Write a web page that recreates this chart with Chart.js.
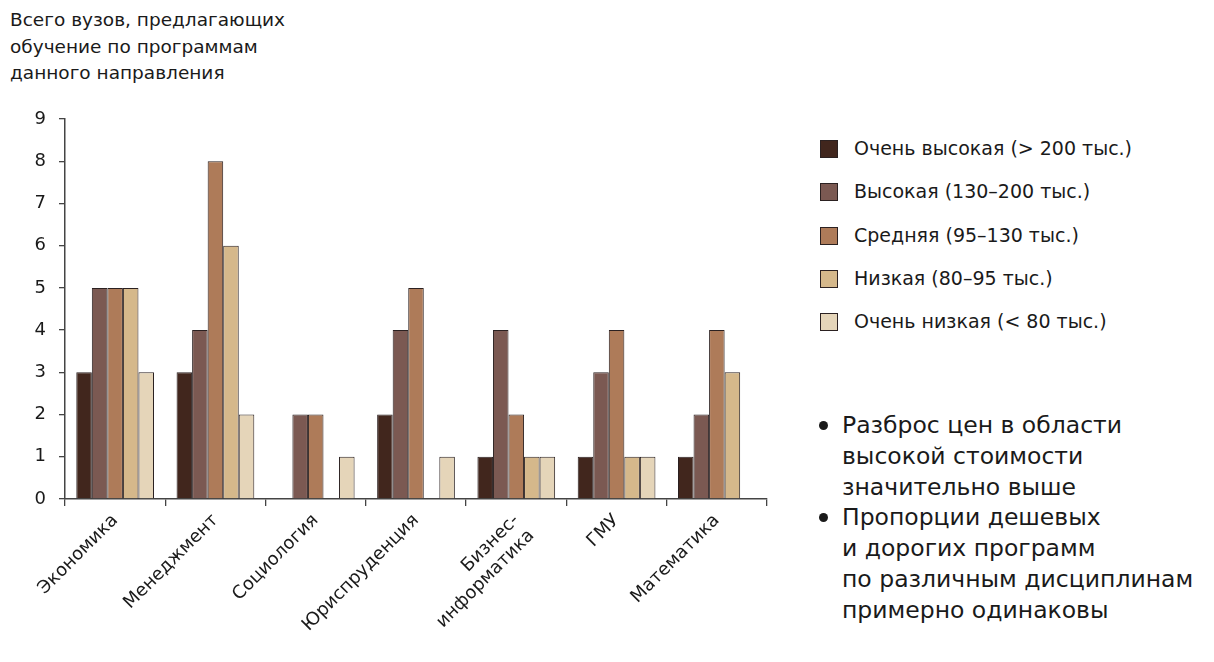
<!DOCTYPE html>
<html>
<head>
<meta charset="utf-8">
<script src="https://cdn.jsdelivr.net/npm/chart.js@4.4.0/dist/chart.umd.min.js"></script>
<style>
  body { margin: 0; background: #fff; font-family: "DejaVu Sans", sans-serif; color: #1a1a1a; }
  #wrap { position: relative; width: 1214px; height: 662px; }
  #chartBox { position: absolute; left: 0; top: 0; width: 800px; height: 662px; }
  #title { position: absolute; left: 10px; top: 7px; font-size: 18.5px; line-height: 26.5px; }
  #legend { position: absolute; left: 820px; top: 137px; font-size: 19px; }
  .li { height: 43.3px; display: flex; align-items: flex-start; }
  .sw { width: 16px; height: 16px; border: 1px solid #2b2121; margin-top: 3px; margin-right: 16px; }
  #notes { position: absolute; left: 818px; top: 410px; font-size: 23.5px; line-height: 30.8px; }
  #notes div { padding-left: 24px; position: relative; }
  #notes div::before { content: ""; position: absolute; left: 1px; top: 11px; width: 9px; height: 9px; border-radius: 50%; background: #1a1a1a; }
</style>
</head>
<body>
<div id="wrap">
  <div id="title">Всего вузов, предлагающих<br>обучение по программам<br>данного направления</div>
  <div id="chartBox"><canvas id="c"></canvas></div>
  <div id="legend"></div>
  <div id="notes">
    <div>Разброс цен в области<br>высокой стоимости<br>значительно выше</div>
    <div>Пропорции дешевых<br>и дорогих программ<br>по различным дисциплинам<br>примерно одинаковы</div>
  </div>
</div>
<script>
const categories = ['Экономика', 'Менеджмент', 'Социология', 'Юриспруденция', ['Бизнес-', 'информатика'], 'ГМУ', 'Математика'];
const seriesNames = ['Очень высокая (> 200 тыс.)', 'Высокая (130–200 тыс.)', 'Средняя (95–130 тыс.)', 'Низкая (80–95 тыс.)', 'Очень низкая (< 80 тыс.)'];
const veryHigh = [3, 3, null, 2, 1, 1, 1];
const high = [5, 4, 2, 4, 4, 3, 2];
const medium = [5, 8, 2, 5, 2, 4, 4];
const low = [5, 6, null, null, 1, 1, 3];
const veryLow = [3, 2, 1, 1, 1, 1, null];
const yTicks = [0, 1, 2, 3, 4, 5, 6, 7, 8, 9];
const colors = ['#41261d', '#7b5952', '#ae7b59', '#d5b88b', '#e5d5b9'];

const values = [veryHigh, high, medium, low, veryLow];
const font = { family: '"DejaVu Sans", sans-serif', size: 18 };

const chart = new Chart(document.getElementById('c'), {
  type: 'bar',
  data: {
    labels: categories,
    datasets: values.map((v, i) => ({
      label: seriesNames[i],
      data: v,
      backgroundColor: colors[i],
      borderColor: '#2b2121',
      borderWidth: 1,
      categoryPercentage: 0.775,
      barPercentage: 1
    }))
  },
  options: {
    responsive: true,
    maintainAspectRatio: false,
    animation: false,
    layout: { padding: { top: 119, right: 33, left: 0, bottom: 0 } },
    plugins: { legend: { display: false }, tooltip: { enabled: false } },
    scales: {
      x: {
        grid: { drawOnChartArea: false, tickLength: 7, color: '#444', lineWidth: 1.3 },
        border: { color: '#444', width: 1.5 },
        ticks: { color: '#1a1a1a', font: font, minRotation: 45, maxRotation: 45, padding: 4 },
        afterFit: s => { s.height = 163; }
      },
      y: {
        min: 0, max: 9,
        afterBuildTicks: s => { s.ticks = yTicks.map(v => ({ value: v })); },
        grid: { drawOnChartArea: false, tickLength: 6, color: '#444', lineWidth: 1.3 },
        border: { color: '#444', width: 1.5 },
        ticks: { color: '#1a1a1a', font: font, padding: 13 },
        afterFit: s => { s.width = 65; }
      }
    }
  }
});

const legend = document.getElementById('legend');
seriesNames.forEach((name, i) => {
  const row = document.createElement('div');
  row.className = 'li';
  const sw = document.createElement('span');
  sw.className = 'sw';
  sw.style.background = colors[i];
  const t = document.createElement('span');
  t.textContent = name;
  row.appendChild(sw);
  row.appendChild(t);
  legend.appendChild(row);
});
</script>
</body>
</html>
